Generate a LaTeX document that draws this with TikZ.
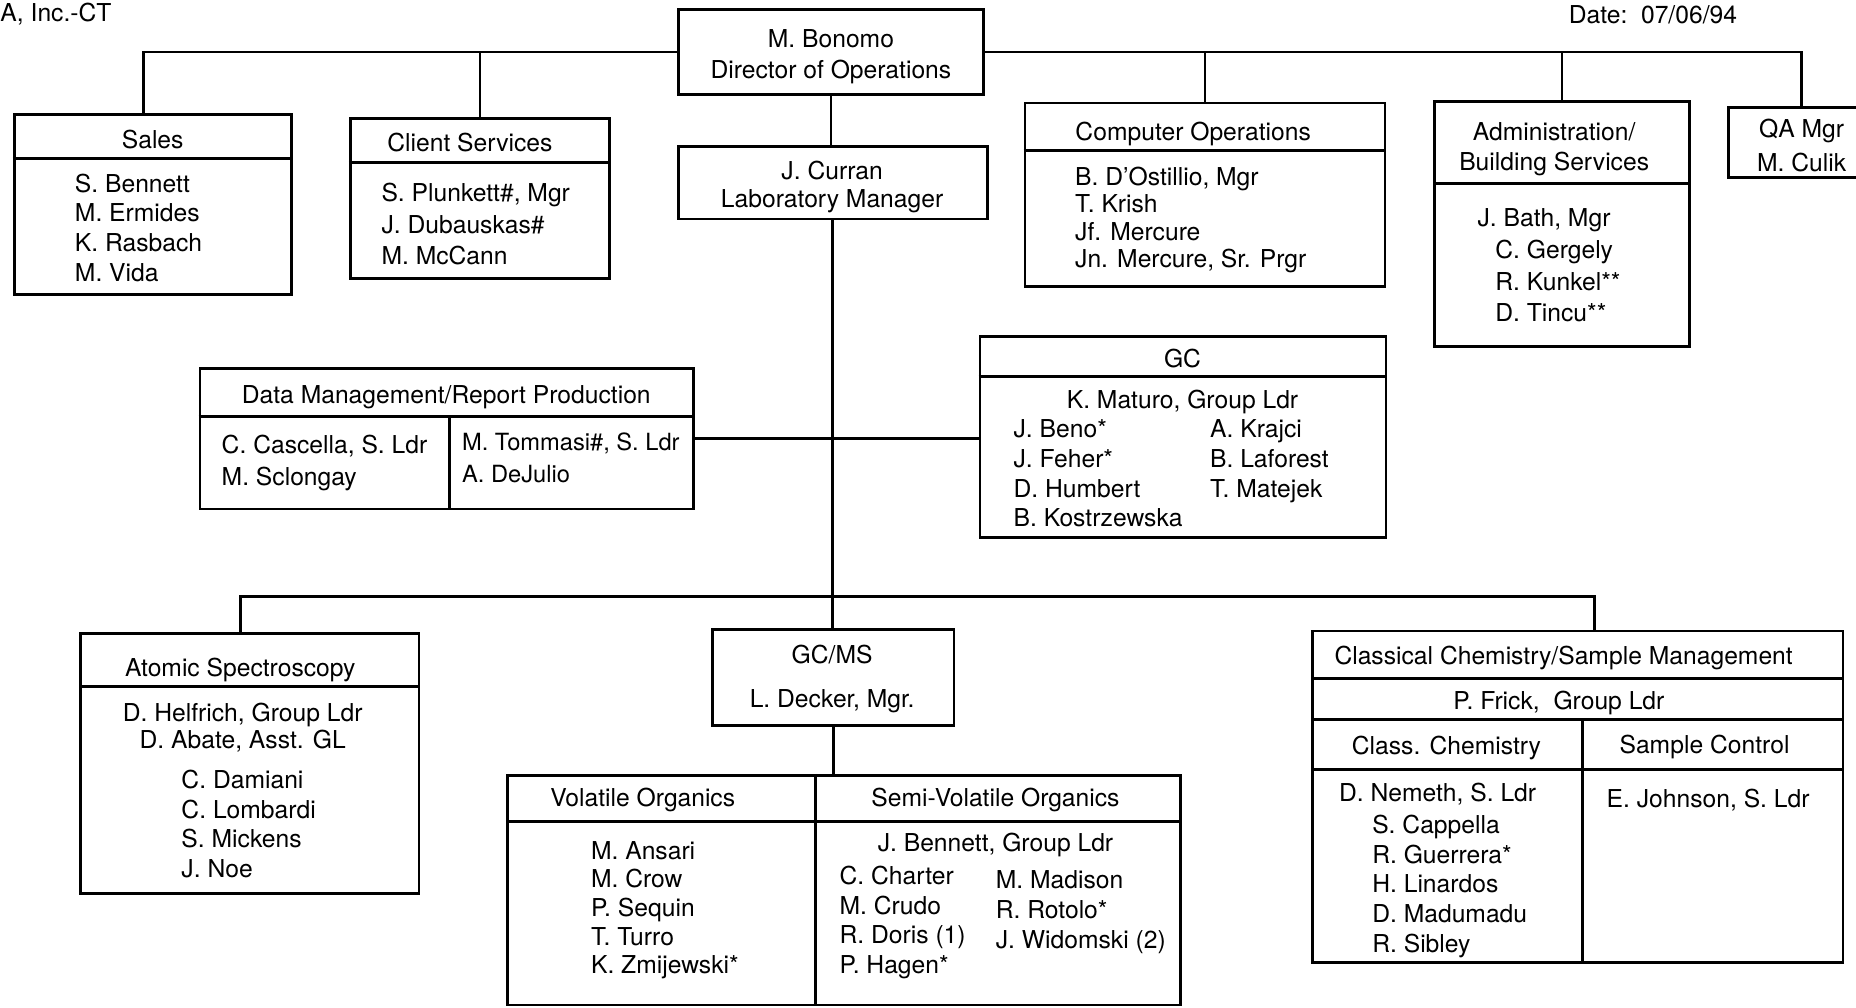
\documentclass[tikz,border=0pt]{standalone}
\usepackage{fontspec}
\setmainfont{TeX Gyre Heros}
\usetikzlibrary{fit}

\begin{document}
\begin{tikzpicture}[
    x=0.6pt, y=-0.6pt,
    font=\fontsize{12.5}{15}\selectfont,
    box/.style={draw, line width=1.4pt, inner sep=0pt},
    txt/.style={inner sep=0pt, align=left, anchor=north west},
    ctxt/.style={inner sep=0pt, align=center, anchor=north},
    lsp/.style={font=\fontsize{12.5}{#1}\selectfont},
    link/.style={line width=1.4pt}
]
\useasboundingbox (0,0) rectangle (1568,851);
\node[txt] (firm) at (0,2.5) {A, Inc.-CT};
\node[txt] (date) at (1325,4.5) {Date:\ \ 07/06/94};

\node[box, fit={(573,8) (831,80)}] (bonomo) {};
\node[ctxt, lsp=16] (bonomotxt) at (702,24.5) {M. Bonomo\\Director of Operations};
\node[box, fit={(573,124) (834,185)}] (curran) {};
\node[ctxt, lsp=14.5] (currantxt) at (703,135.5) {J. Curran\\Laboratory Manager};

\node[box, fit={(12,97) (246,249)}] (sales) {};
\draw[link] (sales.west |- 0,134) -- (sales.east |- 0,134);
\node[ctxt] (salestitle) at (129,109.5) {Sales};
\node[txt] (salesnames) at (63,146.5) {S. Bennett\\M. Ermides\\K. Rasbach\\M. Vida};

\node[box, fit={(296,100) (515,235)}] (client) {};
\draw[link] (client.west |- 0,137) -- (client.east |- 0,137);
\node[ctxt] (clienttitle) at (397,112.5) {Client Services};
\node[txt, lsp=16] (clientnames) at (322,154.5) {S. Plunkett\#, Mgr\\J. Dubauskas\#\\M. McCann};

\node[box, fit={(866,87) (1170,242)}] (compops) {};
\draw[link] (compops.west |- 0,127) -- (compops.east |- 0,127);
\node[ctxt] (compopstitle) at (1008,102.5) {Computer Operations};
\node[txt, lsp=14] (compopsnames) at (908,140.5) {B. D'Ostillio, Mgr\\T. Krish\\Jf. Mercure\\Jn. Mercure, Sr. Prgr};

\node[box, fit={(1212,86) (1427,293)}] (admin) {};
\draw[link] (admin.west |- 0,155) -- (admin.east |- 0,155);
\node[ctxt] (admintitle) at (1313,103.5) {Administration/\\Building Services};
\node[txt] (adminmgr) at (1248,175.5) {J. Bath, Mgr};
\node[txt, lsp=16] (adminnames) at (1263,202.5) {C. Gergely\\R. Kunkel**\\D. Tincu**};

\node[box, fit={(1460,91) (1584,150)}] (qa) {};
\node[ctxt, lsp=17] (qatxt) at (1522,100.5) {QA Mgr\\M. Culik};

\node[box, fit={(169,311) (586,430)}] (datamgmt) {};
\draw[link] (datamgmt.west |- 0,352) -- (datamgmt.east |- 0,352);
\draw[link] (380,352) -- (datamgmt.south -| 380,0);
\node[ctxt] (datatitle) at (377,325.5) {Data Management/Report Production};
\node[txt, lsp=16] (dataleft) at (187,367.5) {C. Cascella, S. Ldr\\M. Sclongay};
\node[txt, lsp=16, font=\fontsize{12}{16}\selectfont] (dataright) at (390,365.5) {M. Tommasi\#, S. Ldr\\A. DeJulio};

\node[box, fit={(828,284) (1171,454)}] (gc) {};
\draw[link] (gc.west |- 0,318) -- (gc.east |- 0,318);
\node[ctxt] (gctitle) at (999,294.5) {GC};
\node[ctxt] (gcldr) at (999,329.5) {K. Maturo, Group Ldr};
\node[txt] (gcleft) at (856,354.5) {J. Beno*\\J. Feher*\\D. Humbert\\B. Kostrzewska};
\node[txt] (gcright) at (1022,354.5) {A. Krajci\\B. Laforest\\T. Matejek};

\node[box, fit={(68,535) (354,755)}] (atomic) {};
\draw[link] (atomic.west |- 0,580) -- (atomic.east |- 0,580);
\node[ctxt] (atomictitle) at (203,555.5) {Atomic Spectroscopy};
\node[ctxt, lsp=14] (atomicldr) at (205,593.5) {D. Helfrich, Group Ldr\\D. Abate, Asst. GL};
\node[txt] (atomicnames) at (153,650.5) {C. Damiani\\C. Lombardi\\S. Mickens\\J. Noe};

\node[box, fit={(602,532) (806,613)}] (gcms) {};
\node[ctxt] (gcmstitle) at (703,544.5) {GC/MS};
\node[ctxt] (gcmsmgr) at (703,582.5) {L. Decker, Mgr.};

\node[box, fit={(429,655) (997,849)}] (organics) {};
\draw[link] (organics.west |- 0,694) -- (organics.east |- 0,694);
\draw[link] (organics.north -| 689,0) -- (organics.south -| 689,0);
\node[ctxt] (voltitle) at (543,665.5) {Volatile Organics};
\node[ctxt] (semititle) at (841,665.5) {Semi-Volatile Organics};
\node[txt, lsp=14.5] (volnames) at (499,710.5) {M. Ansari\\M. Crow\\P. Sequin\\T. Turro\\K. Zmijewski*};
\node[ctxt] (semildr) at (841,703.5) {J. Bennett, Group Ldr};
\node[txt] (semileft) at (709,731.5) {C. Charter\\M. Crudo\\R. Doris (1)\\P. Hagen*};
\node[txt] (semiright) at (841,735.5) {M. Madison\\R. Rotolo*\\J. Widomski (2)};

\node[box, fit={(1109,533) (1557,813)}] (classical) {};
\draw[link] (classical.west |- 0,573) -- (classical.east |- 0,573);
\draw[link] (classical.west |- 0,608) -- (classical.east |- 0,608);
\draw[link] (classical.west |- 0,650) -- (classical.east |- 0,650);
\draw[link] (1337,608) -- (classical.south -| 1337,0);
\node[ctxt] (classtitle) at (1321,545.5) {Classical Chemistry/Sample Management};
\node[ctxt] (classldr) at (1317,583.5) {P. Frick,\ \ Group Ldr};
\node[ctxt] (chemtitle) at (1222,621.5) {Class. Chemistry};
\node[ctxt] (sampletitle) at (1440,620.5) {Sample Control};
\node[txt] (chemldr) at (1131,661.5) {D. Nemeth, S. Ldr};
\node[txt] (chemnames) at (1159,688.5) {S. Cappella\\R. Guerrera*\\H. Linardos\\D. Madumadu\\R. Sibley};
\node[txt] (sampleldr) at (1357,666.5) {E. Johnson, S. Ldr};

% connectors
\draw[link] ([xshift=-4.8pt]sales.north) |- (bonomo.west);
\draw[link] (client.north) -- (client.north |- bonomo.west);
\draw[link] (qa.north) |- (bonomo.east);
\draw[link] (compops.north) -- (compops.north |- bonomo.east);
\draw[link] (admin.north) -- (admin.north |- bonomo.east);
\draw[link] (bonomo.south) -- (bonomo.south |- curran.north);
\draw[link] (curran.south) -- (curran.south |- gcms.north);
\draw[link] (datamgmt.east) -- (datamgmt.east -| gc.west);
\coordinate (bus) at (703,504);
\draw[link] ([xshift=-4.8pt]atomic.north) |- (bus) -| ([xshift=8.4pt]classical.north);
\draw[link] (gcms.south) -- (gcms.south |- organics.north);
\end{tikzpicture}
\end{document}
